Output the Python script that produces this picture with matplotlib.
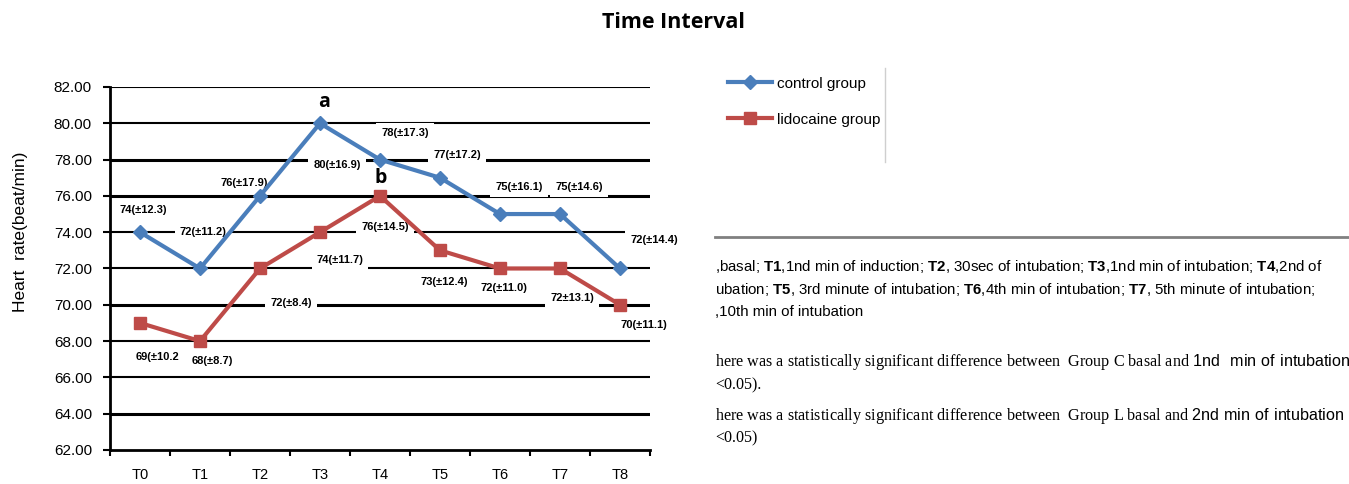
import matplotlib
matplotlib.use('Agg')
import matplotlib.pyplot as plt
from matplotlib.lines import Line2D
from matplotlib import font_manager
import numpy as np

# ---------------- data ----------------
categories = ['T0', 'T1', 'T2', 'T3', 'T4', 'T5', 'T6', 'T7', 'T8']
control = [74, 72, 76, 80, 78, 77, 75, 75, 72]
lidocaine = [69, 68, 72, 74, 76, 73, 72, 72, 70]
control_labels = ['74(±12.3)', '72(±11.2)', '76(±17.9)', '80(±16.9)', '78(±17.3)',
                  '77(±17.2)', '75(±16.1)', '75(±14.6)', '72(±14.4)']
lidocaine_labels = ['69(±10.2', '68(±8.7)', '72(±8.4)', '74(±11.7)', '76(±14.5)',
                    '73(±12.4)', '72(±11.0)', '72±13.1)', '70(±11.1)']
yticks = [62, 64, 66, 68, 70, 72, 74, 76, 78, 80, 82]
series_names = ['control group', 'lidocaine group']
title = 'Time Interval'
ylabel = 'Heart  rate(beat/min)'

# ---------------- style ----------------
BLUE = '#4A7EBB'
RED = '#BE4B48'
names = {f.name for f in font_manager.fontManager.ttflist}
NARROW = 'Liberation Sans Narrow' if 'Liberation Sans Narrow' in names else 'Liberation Sans'
SANS = 'Liberation Sans'
SERIF = 'Liberation Serif'

plt.rcParams['mathtext.fontset'] = 'custom'
plt.rcParams['mathtext.rm'] = NARROW
plt.rcParams['mathtext.bf'] = NARROW + ':bold'
plt.rcParams['mathtext.sf'] = NARROW

# label offsets in pixels (dx, dy)
control_off = [(3, 22), (3, 36), (-16, 13), (17, -42), (25, 27), (17, 23), (19, 27), (19, 27), (34, 28)]
lido_off = [(17, -34), (12, -20), (31, -35), (20, -28), (5, -31), (4, -32), (4, -20), (12, -30), (24, -20)]
grid_w = [0, 2.2, 1.5, 1.5, 2.2, 1.5, 1.5, 2.2, 2.2, 1.5, 1.5]

W, H = 1349, 484
fig = plt.figure(figsize=(W / 100, H / 100), dpi=100)
ax = fig.add_axes([110 / W, 34 / H, 540 / W, 363 / H])

x = np.arange(len(categories))
ax.set_xlim(-0.5, len(categories) - 0.5)
ax.set_ylim(yticks[0], yticks[-1])

for v, w in zip(yticks, grid_w):
    if w > 0:
        ax.axhline(v, color='black', lw=w, zorder=1)

ax.plot(x, control, color=BLUE, lw=3, marker='D', ms=7.5, mec=BLUE, zorder=4,
        label=series_names[0])
ax.plot(x, lidocaine, color=RED, lw=3, marker='s', ms=9, mec=RED, zorder=4,
        label=series_names[1])

for vals, labs, offs in [(control, control_labels, control_off),
                         (lidocaine, lidocaine_labels, lido_off)]:
    for xi, yi, s, (dx, dy) in zip(x, vals, labs, offs):
        ax.annotate(s, (xi, yi), xytext=(dx, dy), textcoords='offset pixels',
                    ha='center', va='center', fontsize=8, fontweight='bold',
                    family=SANS, zorder=3, annotation_clip=False,
                    bbox=dict(boxstyle='square,pad=0.45', fc='white', ec='none'))

ax.annotate('a', (x[3], control[3]), xytext=(4, 21), textcoords='offset pixels',
            ha='center', va='center', fontsize=14, fontweight='bold', family='Open Sans')
ax.annotate('b', (x[4], lidocaine[4]), xytext=(1, 18), textcoords='offset pixels',
            ha='center', va='center', fontsize=14, fontweight='bold', family='Open Sans')

for sp in ['top', 'right']:
    ax.spines[sp].set_visible(False)
ax.spines['left'].set_linewidth(2)
ax.spines['bottom'].set_linewidth(2)

ax.set_yticks(yticks)
ax.set_yticklabels([f'{v:.2f}' for v in yticks], family=SANS, fontsize=11)
ax.tick_params(axis='y', length=5, width=1.5, pad=8)
ax.set_xticks(np.arange(-0.5, len(categories), 1))
ax.set_xticklabels([])
ax.tick_params(axis='x', which='major', length=4, width=1.5)
ax.set_xticks(x, minor=True)
ax.set_xticklabels(categories, minor=True, family=SANS, fontsize=10.5)
ax.tick_params(axis='x', which='minor', length=0, pad=13)

ax.set_ylabel(ylabel, family=SANS, fontsize=12.5)
ax.yaxis.set_label_coords(-0.152, 0.6)

fig.text(673 / W, 1 - 22 / H, title, ha='center', va='center', fontsize=15.5,
         fontweight='bold', family='Open Sans')

handles = [Line2D([], [], color=BLUE, lw=3, marker='D', ms=7.5),
           Line2D([], [], color=RED, lw=3, marker='s', ms=9)]
fig.legend(handles, series_names, loc='upper left', bbox_to_anchor=(720 / W, 1 - 69 / H),
           frameon=False, prop={'family': SANS, 'size': 11}, handlelength=2.9,
           handletextpad=0.3, labelspacing=1.45, borderpad=0)

fig.add_artist(Line2D([885 / W, 885 / W], [1 - 68 / H, 1 - 162 / H],
                      transform=fig.transFigure, color='#cfcfcf', lw=1))
fig.add_artist(Line2D([715 / W, 1.0], [1 - 237 / H, 1 - 237 / H],
                      transform=fig.transFigure, color='#808080', lw=2))

note_lines = [
    (r',basal; $\mathbf{T1}$,1nd min of induction; $\mathbf{T2}$, 30sec of intubation; '
     r'$\mathbf{T3}$,1nd min of intubation; $\mathbf{T4}$,2nd of', 271, NARROW, 10.8),
    (r'ubation; $\mathbf{T5}$, 3rd minute of intubation; $\mathbf{T6}$,4th min of intubation; '
     r'$\mathbf{T7}$, 5th minute of intubation;', 294, NARROW, 10.8),
    (r',10th min of intubation', 316, NARROW, 10.8),
    (r'here was a statistically significant difference between  Group C basal and '
     r'$\mathsf{1nd\ \ min\ of\ intubation}$', 366, SERIF, 11.6),
    (r'<0.05).', 389, SERIF, 11.6),
    (r'here was a statistically significant difference between  Group L basal and '
     r'$\mathsf{2nd\ min\ of\ intubation}$', 420, SERIF, 11.6),
    (r'<0.05)', 442, SERIF, 11.6),
]
for s, yb, fam, fs in note_lines:
    fig.text(715 / W, 1 - yb / H, s, ha='left', va='baseline', family=fam, fontsize=fs)

fig.savefig('out.png', dpi=100)
